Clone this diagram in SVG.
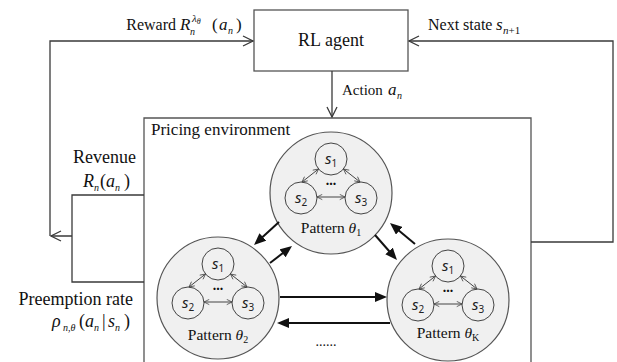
<svg xmlns="http://www.w3.org/2000/svg" width="617" height="362" viewBox="0 0 617 362">
  <style>
    .ln{fill:none;stroke:#3a3a3a;stroke-width:1.3}
    .thick{fill:none;stroke:#111;stroke-width:2}
    .box{fill:#fff;stroke:#555;stroke-width:1.3}
    .pat{fill:#f0f0f0;stroke:#555;stroke-width:1.2}
    .st{fill:none;stroke:#444;stroke-width:1}
    .it{font-style:italic}
  </style>
  <defs>
    <marker id="open" viewBox="0 0 12 12" refX="11" refY="6" markerWidth="12" markerHeight="12" markerUnits="userSpaceOnUse" orient="auto">
      <path d="M1,1 L11,6 L1,11" fill="none" stroke="#3a3a3a" stroke-width="1.3"/>
    </marker>
    <marker id="solid" viewBox="0 0 12 10" refX="4" refY="5" markerWidth="12" markerHeight="10" markerUnits="userSpaceOnUse" orient="auto">
      <path d="M0,0 L12,5 L0,10 z" fill="#111"/>
    </marker>
    <marker id="tip" viewBox="0 0 8 8" refX="7" refY="4" markerWidth="7" markerHeight="7" markerUnits="userSpaceOnUse" orient="auto-start-reverse">
      <path d="M1,1 L7,4 L1,7" fill="none" stroke="#444" stroke-width="0.9"/>
    </marker>
    <!-- three-state chain drawn inside every pattern circle -->
    <g id="states">
      <circle class="st" cx="0" cy="-34" r="16"/>
      <circle class="st" cx="-30" cy="5" r="16"/>
      <circle class="st" cx="30" cy="5" r="16"/>
      <path class="st" d="M-12.5,-24 L-29,-11" marker-start="url(#tip)" marker-end="url(#tip)"/>
      <path class="st" d="M12.5,-24 L29,-11" marker-start="url(#tip)" marker-end="url(#tip)"/>
      <path class="st" d="M-14,4 L14,4" marker-start="url(#tip)" marker-end="url(#tip)"/>
      <g font-family="'Noto Sans', 'DejaVu Sans', sans-serif" fill="#222" font-size="15" text-anchor="middle">
        <text x="0" y="-29"><tspan font-style="italic">s</tspan><tspan font-size="10" dy="3">1</tspan></text>
        <text x="-30" y="10"><tspan font-style="italic">s</tspan><tspan font-size="10" dy="3">2</tspan></text>
        <text x="30" y="10"><tspan font-style="italic">s</tspan><tspan font-size="10" dy="3">3</tspan></text>
      </g>
      <text x="0" y="-8" font-family="'Liberation Serif', 'Times New Roman', serif" font-size="14" font-weight="bold" text-anchor="middle" fill="#111">...</text>
    </g>
  </defs>

  <g font-family="'Liberation Serif', 'Times New Roman', Times, serif" fill="#111">
  <!-- agent -->
  <g id="agent">
    <rect class="box" x="254" y="10" width="154" height="61"/>
    <text x="331" y="46" font-size="18" text-anchor="middle">RL agent</text>
  </g>

  <!-- environment frame -->
  <g id="environment">
    <path class="box" d="M144,380 L144,118 L531,118 L531,380"/>
    <text x="151" y="135" font-size="17">Pricing environment</text>
  </g>

  <g id="pattern1" transform="translate(331,193)">
    <circle class="pat" cx="0" cy="0" r="61"/>
    <use href="#states"/>
    <text x="0" y="40" font-size="15.5" text-anchor="middle">Pattern <tspan class="it">θ</tspan><tspan font-size="10" dy="3">1</tspan></text>
  </g>

  <g id="pattern2" transform="translate(218,298)">
    <circle class="pat" cx="0" cy="0" r="61"/>
    <use href="#states"/>
    <text x="0" y="42" font-size="15.5" text-anchor="middle">Pattern <tspan class="it">θ</tspan><tspan font-size="10" dy="3">2</tspan></text>
  </g>

  <g id="patternK" transform="translate(448,300)">
    <circle class="pat" cx="0" cy="0" r="61"/>
    <use href="#states"/>
    <text x="0" y="38" font-size="15.5" text-anchor="middle">Pattern <tspan class="it">θ</tspan><tspan font-size="10" dy="3">K</tspan></text>
  </g>

  <text x="326" y="346" font-size="14" text-anchor="middle">......</text>

  <!-- connectors -->
  <g id="connectors">
    <path class="ln" d="M50,236 L50,41 L253,41" marker-end="url(#open)"/>
    <path class="ln" d="M144,195 L72,195 L72,282 L144,282 M72,236 L51,236" marker-end="url(#open)"/>
    <path class="ln" d="M531,242 L613,242 L613,41 L409,41" marker-end="url(#open)"/>
    <path class="ln" d="M332,71 L332,117" marker-end="url(#open)"/>

    <path class="thick" d="M279,222 L259.9,239.6" marker-end="url(#solid)"/>
    <path class="thick" d="M270,263 L285.7,250.9" marker-end="url(#solid)"/>
    <path class="thick" d="M375,235 L391.7,254" marker-end="url(#solid)"/>
    <path class="thick" d="M415,244 L396.1,228.2" marker-end="url(#solid)"/>
    <path class="thick" d="M280,297 L379,297" marker-end="url(#solid)"/>
    <path class="thick" d="M390,323 L285,323" marker-end="url(#solid)"/>
  </g>

  <!-- connector labels -->
  <g id="labels">
    <text x="176" y="30" font-size="16" text-anchor="end">Reward</text>
    <text x="180" y="30" font-size="17" class="it">R</text>
    <text x="190" y="35" font-size="10" class="it">n</text>
    <text x="192" y="22" font-size="11" class="it">λ<tspan font-size="8" dy="1.5">θ</tspan></text>
    <text x="212" y="30" font-size="17">(</text>
    <text x="219" y="30" font-size="17" class="it">a</text>
    <text x="228" y="34" font-size="10" class="it">n</text>
    <text x="236" y="30" font-size="17">)</text>

    <text x="428" y="30" font-size="16">Next state</text>
    <text x="496" y="30" font-size="17" class="it">s</text>
    <text x="503" y="34" font-size="11"><tspan class="it">n</tspan>+1</text>

    <text x="342" y="95" font-size="15">Action</text>
    <text x="388" y="95" font-size="17" class="it">a</text>
    <text x="397" y="99" font-size="10" class="it">n</text>

    <text x="136" y="163" font-size="18" text-anchor="end">Revenue</text>
    <text x="83" y="187" font-size="18" class="it">R</text>
    <text x="94" y="191" font-size="10" class="it">n</text>
    <text x="100" y="187" font-size="18">(</text>
    <text x="106" y="187" font-size="18" class="it">a</text>
    <text x="115" y="191" font-size="10" class="it">n</text>
    <text x="124" y="187" font-size="18">)</text>

    <text x="133" y="305" font-size="18" text-anchor="end">Preemption rate</text>
    <text x="52" y="327" font-size="18" class="it">ρ</text>
    <text x="63" y="331" font-size="10"><tspan class="it">n</tspan>,<tspan class="it">θ</tspan></text>
    <text x="79" y="327" font-size="18">(</text>
    <text x="85" y="327" font-size="18" class="it">a</text>
    <text x="94" y="331" font-size="10" class="it">n</text>
    <text x="102" y="327" font-size="18">|</text>
    <text x="108" y="327" font-size="18" class="it">s</text>
    <text x="115" y="331" font-size="10" class="it">n</text>
    <text x="124" y="327" font-size="18">)</text>
  </g>
  </g>
</svg>
